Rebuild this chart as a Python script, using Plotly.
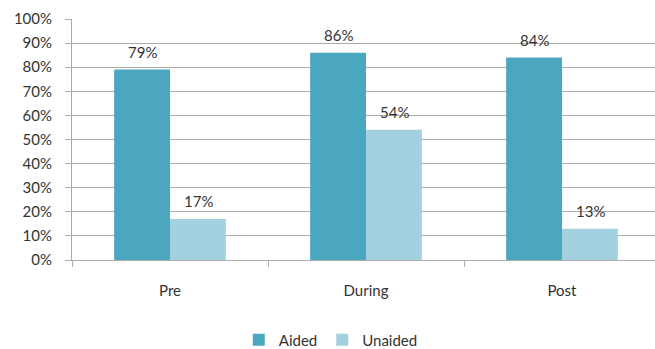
import plotly.graph_objects as go

# Share of respondents by phase
phases = ["Pre", "During", "Post"]
aided = [79, 86, 84]
unaided = [17, 54, 13]
y_ticks = list(range(0, 101, 10))
y_tick_labels = [f"{v}%" for v in y_ticks]

AIDED_COLOR = "#4aa7bf"
UNAIDED_COLOR = "#a3d1e0"
TEXT_COLOR = "#333333"
GRID_COLOR = "#ababab"
FONT = "Lato, 'Open Sans', sans-serif"
FONT_SIZE = 15

fig = go.Figure()
fig.add_trace(go.Bar(name="Aided", x=phases, y=aided, marker_color=AIDED_COLOR,
                     marker_line_width=0))
fig.add_trace(go.Bar(name="Unaided", x=phases, y=unaided, marker_color=UNAIDED_COLOR,
                     marker_line_width=0))

# value labels above each bar
bar_px = 56
for series, shift in ((aided, -bar_px / 2), (unaided, bar_px / 2)):
    for cat, val in zip(phases, series):
        fig.add_annotation(x=cat, y=val, text=f"{val}%", showarrow=False,
                           xanchor="center", yanchor="bottom", xshift=shift, yshift=7,
                           font=dict(family=FONT, size=FONT_SIZE, color=TEXT_COLOR))

fig.update_layout(
    width=655, height=349,
    margin=dict(l=72, r=0, t=19, b=89),
    paper_bgcolor="white", plot_bgcolor="white",
    barmode="group", bargap=0.43, bargroupgap=0,
    font=dict(family=FONT, size=FONT_SIZE, color=TEXT_COLOR),
    showlegend=True,
    legend=dict(orientation="h", xref="container", x=0.505, xanchor="center",
                yref="container", y=0.026, yanchor="middle",
                font=dict(family=FONT, size=FONT_SIZE, color=TEXT_COLOR),
                itemwidth=30, tracegroupgap=0),
)

fig.update_xaxes(
    range=[-0.5, 2.5 - 5 / 196],
    showgrid=False, showline=True, linecolor=GRID_COLOR, linewidth=1,
    ticks="outside", ticklen=6, tickcolor=GRID_COLOR, tickson="boundaries",
    ticklabelstandoff=17,
    tickfont=dict(family=FONT, size=FONT_SIZE, color=TEXT_COLOR),
)
fig.update_yaxes(
    range=[0, 100], tickvals=y_ticks, ticktext=y_tick_labels,
    showgrid=True, gridcolor=GRID_COLOR, gridwidth=1,
    showline=True, linecolor=GRID_COLOR, linewidth=1,
    ticks="outside", ticklen=6, tickcolor=GRID_COLOR,
    ticklabelstandoff=10, zeroline=False,
    tickfont=dict(family=FONT, size=FONT_SIZE, color=TEXT_COLOR),
)

fig.write_html("out.html")
